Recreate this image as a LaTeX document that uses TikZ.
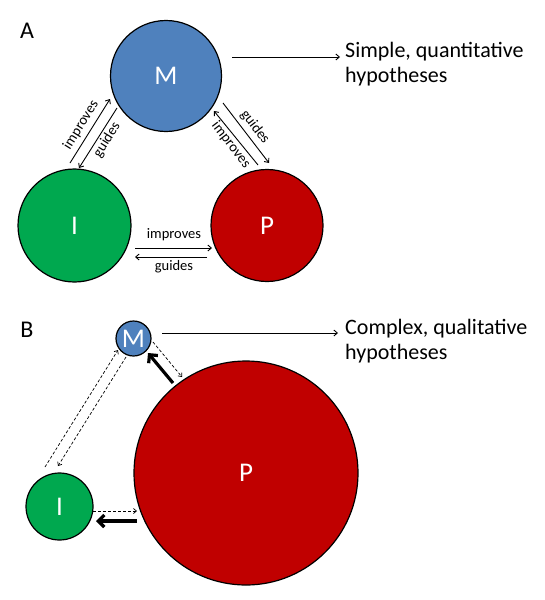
\documentclass[tikz,border=0pt]{standalone}
\usepackage{fontspec}
\setmainfont{Carlito}
\usetikzlibrary{arrows.meta}
\definecolor{mblue}{HTML}{4F81BD}
\definecolor{pred}{HTML}{C00000}
\definecolor{igreen}{HTML}{00A84F}
\begin{document}
\begin{tikzpicture}[x=1pt,y=-1pt,
  circ/.style={circle,draw=black,line width=1.2pt,inner sep=0pt,text=white,font=\fontsize{27}{30}\selectfont},
  thinarrow/.style={line width=0.9pt,-{Straight Barb[length=3.5pt,width=6pt]}},
  dasharrow/.style={line width=0.7pt,dash pattern=on 3pt off 2pt,-{Straight Barb[length=3pt,width=5pt]}},
  thickarrow/.style={line width=3.2pt,-{Straight Barb[length=6pt,width=12pt]}},
  lab/.style={font=\fontsize{14.5}{16}\selectfont,inner sep=0pt},
  panel/.style={font=\fontsize{24}{28}\selectfont,inner sep=0pt},
  hyp/.style={font=\fontsize{22}{25}\selectfont,align=left,anchor=west,inner sep=0pt}]
\useasboundingbox (0,0) rectangle (544,600);

% ---------- Panel A ----------
\node[panel] (pA) at (27,31) {A};
\node[circ,fill=mblue,minimum size=111pt] (MA) at (166,76) {M};
\node[circ,fill=igreen,minimum size=113pt] (IA) at (74.5,225.5) {I};
\node[circ,fill=pred,minimum size=112pt] (PA) at (267,225.5) {P};
\node[hyp] (tA) at (345,64) {Simple, quantitative\\hypotheses};
\coordinate (eA) at (340,57);

\draw[thinarrow] ([shift={(66,-19)}]MA.center) -- (eA);
% I <-> M
\draw[thinarrow] ([shift={(-4.5,-62.5)}]IA.center) -- ([shift={(-56,23)}]MA.center);
\draw[thinarrow] ([shift={(-49,32)}]MA.center) -- ([shift={(4.5,-57.5)}]IA.center);
\node[lab,rotate=58] (l1) at (81,125) {improves};
\node[lab,rotate=58] (l2) at (107,140) {guides};
% M <-> P
\draw[thinarrow] ([shift={(57,27)}]MA.center) -- ([shift={(2,-62.5)}]PA.center);
\draw[thinarrow] ([shift={(-9,-60.5)}]PA.center) -- ([shift={(48,35)}]MA.center);
\node[lab,rotate=-52.5] (l3) at (255,127) {guides};
\node[lab,rotate=-52.5] (l4) at (231,145) {improves};
% I <-> P
\draw[thinarrow] ([shift={(60.5,22.5)}]IA.center) -- ([shift={(-55,22.5)}]PA.center);
\draw[thinarrow] ([shift={(-60,31.5)}]PA.center) -- ([shift={(60.5,31.5)}]IA.center);
\node[lab] (l5) at (174,235) {improves};
\node[lab] (l6) at (174,267) {guides};

% ---------- Panel B ----------
\node[panel] (pB) at (27,330) {B};
\node[circ,fill=mblue,minimum size=35pt] (MB) at (133.5,338.5) {M};
\node[circ,fill=igreen,minimum size=67pt] (IB) at (59.5,506.5) {I};
\node[circ,fill=pred,minimum size=224pt] (PB) at (246,473) {P};
\node[hyp] (tB) at (345,341) {Complex, qualitative\\hypotheses};
\coordinate (eB) at (338,333);

\draw[thinarrow] ([shift={(28.5,-5.5)}]MB.center) -- (eB);
% I <-> M
\draw[dasharrow] ([shift={(-14.5,-39.5)}]IB.center) -- ([shift={(-15.5,11.5)}]MB.center);
\draw[dasharrow] ([shift={(-7.5,18.5)}]MB.center) -- ([shift={(-1.5,-40.5)}]IB.center);
% M <-> P
\draw[dasharrow] ([shift={(19.5,3.5)}]MB.center) -- ([shift={(-64,-96)}]PB.center);
\draw[thickarrow] ([shift={(-73,-90)}]PB.center) -- ([shift={(14.5,14.5)}]MB.center);
% I <-> P
\draw[dasharrow] ([shift={(33.5,4.5)}]IB.center) -- ([shift={(-109,38)}]PB.center);
\draw[thickarrow] ([shift={(-109,48)}]PB.center) -- ([shift={(36.5,14.5)}]IB.center);
\end{tikzpicture}
\end{document}
